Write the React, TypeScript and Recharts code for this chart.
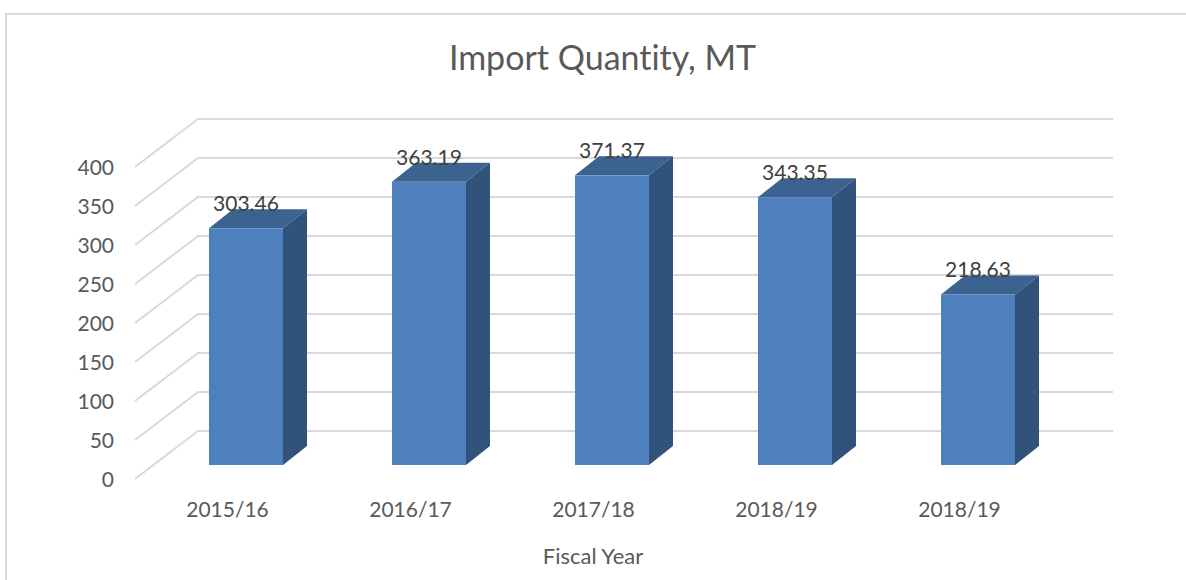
import React from "react";
import { Bar, BarChart, CartesianGrid, LabelList, XAxis, YAxis } from "recharts";

const years = ["2015/16", "2016/17", "2017/18", "2018/19", "2018/19"];
const importQuantity = [303.46, 363.19, 371.37, 343.35, 218.63];
const yTicks = [0, 50, 100, 150, 200, 250, 300, 350, 400];

const dataset = years.map((year, i) => ({ year, quantity: importQuantity[i] }));

const font = "Lato, sans-serif";
const gridColor = "#d9d9d9";
const textColor = "#595959";
const textStyle = { fontFamily: font, fontVariantLigatures: "none" };

// depth of the fake 3D bars
const depthX = 24;
const depthY = 19;

const WallLine = (props: any) => {
  const { y1 } = props;
  return (
    <polyline
      points={`135,${y1 + 14} 198,${y1 - 34} 1113,${y1 - 34}`}
      fill="none"
      stroke={gridColor}
      strokeWidth={2}
    />
  );
};

const YTick = (props: any) => {
  const { y, payload } = props;
  return (
    <text
      x={114}
      y={y + 15}
      dy={7}
      textAnchor="end"
      fill={textColor}
      style={{ ...textStyle, fontSize: "21px" }}
    >
      {payload.value}
    </text>
  );
};

const XTick = (props: any) => {
  const { x, payload } = props;
  return (
    <text
      x={x - 18}
      y={517}
      textAnchor="middle"
      fill={textColor}
      style={{ ...textStyle, fontSize: "21px" }}
    >
      {payload.value}
    </text>
  );
};

const Bar3D = (props: any) => {
  const { x, y, width, height } = props;
  const right = x + width;
  const bottom = y + height;
  return (
    <g>
      <polygon
        points={`${x},${y} ${x + depthX},${y - depthY} ${right + depthX},${y - depthY} ${right},${y}`}
        fill="#3c628f"
      />
      <polygon
        points={`${right},${y} ${right + depthX},${y - depthY} ${right + depthX},${bottom - depthY} ${right},${bottom}`}
        fill="#31527a"
      />
      <rect x={x} y={y} width={width} height={height} fill="#4e80bd" />
    </g>
  );
};

const App = () => (
  <div style={{ position: "fixed", left: 0, top: 0, width: 1186, height: 580, background: "#fff" }}>
    <BarChart
      width={1186}
      height={580}
      data={dataset}
      margin={{ top: 153, right: 117, bottom: 0, left: 0 }}
    >
      <rect x={6} y={14} width={1300} height={700} fill="none" stroke={gridColor} strokeWidth={2} />
      <text
        x={602.5}
        y={70}
        textAnchor="middle"
        fill={textColor}
        style={{ ...textStyle, fontSize: "34px" }}
      >
        Import Quantity, MT
      </text>
      <text
        x={593}
        y={564}
        textAnchor="middle"
        fill={textColor}
        style={{ ...textStyle, fontSize: "22px" }}
      >
        Fiscal Year
      </text>
      <CartesianGrid vertical={false} horizontal={(props: any) => <WallLine key={props.key} {...props} />} />
      <YAxis
        width={154}
        domain={[0, 400]}
        ticks={yTicks}
        interval={0}
        axisLine={false}
        tickLine={false}
        tick={<YTick />}
      />
      <XAxis
        dataKey="year"
        height={115}
        interval={0}
        axisLine={false}
        tickLine={false}
        tick={<XTick />}
      />
      <Bar dataKey="quantity" barSize={74} shape={<Bar3D />} isAnimationActive={false}>
        <LabelList
          dataKey="quantity"
          position="top"
          offset={17}
          fill="#404040"
          style={{ ...textStyle, fontSize: "21px" }}
        />
      </Bar>
    </BarChart>
  </div>
);

export default App;
